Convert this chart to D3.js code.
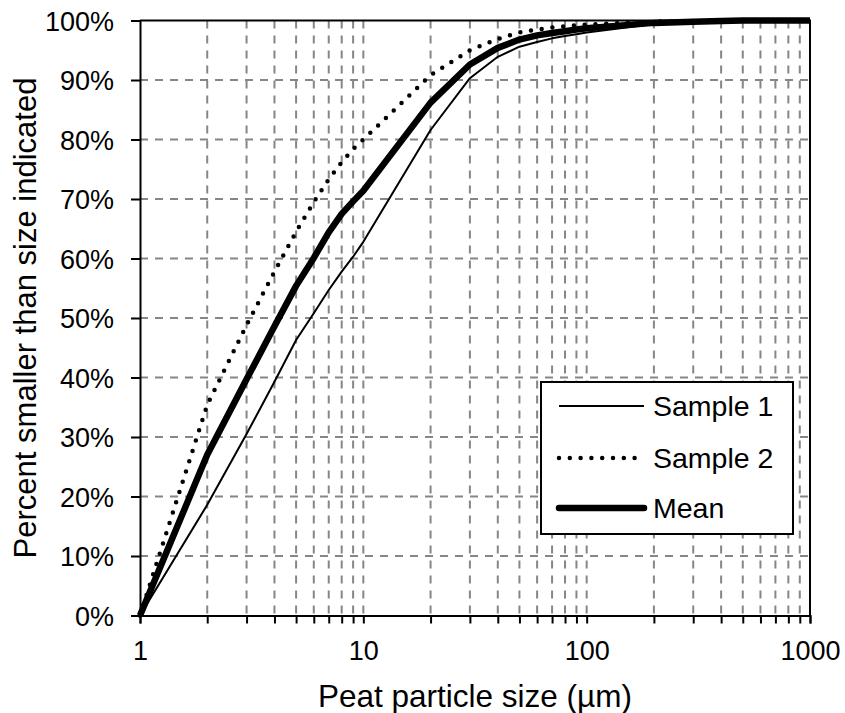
<!DOCTYPE html>
<html>
<head>
<meta charset="utf-8">
<script src="https://cdn.jsdelivr.net/npm/d3@7"></script>
<style>
  body { margin: 0; background: #fff; }
  svg { display: block; font-family: "Liberation Sans", Arial, sans-serif; }
</style>
</head>
<body>
<div id="chart"></div>
<script>
  // particle sizes (µm) the curves were sampled at
  var sizes = [1, 2, 3, 4, 5, 6, 7, 8, 9, 10, 20, 30, 40, 50, 60, 70, 80, 90,
               100, 200, 300, 400, 500, 600, 700, 800, 900, 1000];

  // cumulative percent passing
  var sample1 = [0, 18.6, 30.5, 39.3, 46.3, 50.8, 54.7, 57.8, 60.3, 62.8, 81.6, 90.3, 93.9, 95.6, 96.4, 97.0, 97.4, 97.7,
                 98.0, 99.4, 99.7, 99.8, 99.9, 99.9, 100, 100, 100, 100];
  var sample2 = [0, 35.4, 48.8, 57.8, 64.5, 69.5, 73.3, 76.2, 78.4, 80.0, 90.8, 95.0, 96.9, 98.0, 98.5, 98.8, 99.0, 99.2,
                 99.3, 99.8, 99.9, 100, 100, 100, 100, 100, 100, 100];
  var mean    = [0, 27.0, 39.7, 48.6, 55.4, 60.1, 64.4, 67.5, 69.6, 71.4, 86.2, 92.6, 95.4, 96.8, 97.5, 97.9, 98.2, 98.5,
                 98.7, 99.6, 99.8, 99.9, 100, 100, 100, 100, 100, 100];

  var xTicks = [1, 10, 100, 1000];
  var yTicks = [0, 10, 20, 30, 40, 50, 60, 70, 80, 90, 100];
  var legendNames = ["Sample 1", "Sample 2", "Mean"];

  var width = 845, height = 713;
  var plotLeft = 140, plotRight = 810, plotTop = 20.5, plotBottom = 615.5;

  var svg = d3.select("#chart").append("svg")
      .attr("width", width)
      .attr("height", height);

  var x = d3.scaleLog().domain([1, 1000]).range([plotLeft, plotRight]);
  var y = d3.scaleLinear().domain([0, 100]).range([plotBottom, plotTop]);

  // minor grid values: 2..9 in each decade
  var gridX = [];
  [1, 10, 100].forEach(function (d) {
    for (var i = 2; i <= 9; i++) gridX.push(d * i);
  });

  var grid = svg.append("g")
      .attr("stroke", "#868686")
      .attr("stroke-width", 2)
      .attr("stroke-dasharray", "8,7");

  grid.selectAll("line.gx")
      .data(gridX.concat([10, 100]))
      .enter().append("line")
      .attr("class", "gx")
      .attr("x1", function (d) { return x(d); })
      .attr("x2", function (d) { return x(d); })
      .attr("y1", plotTop)
      .attr("y2", plotBottom);

  grid.selectAll("line.gy")
      .data(yTicks.slice(1, -1))
      .enter().append("line")
      .attr("class", "gy")
      .attr("x1", plotLeft)
      .attr("x2", plotRight)
      .attr("y1", function (d) { return y(d); })
      .attr("y2", function (d) { return y(d); });

  // frame on top and right
  svg.append("path")
      .attr("d", "M" + plotLeft + "," + plotTop + "H" + plotRight + "V" + plotBottom)
      .attr("fill", "none")
      .attr("stroke", "#000")
      .attr("stroke-width", 2);

  // x axis
  var xAxis = d3.axisBottom(x)
      .tickValues(xTicks.concat(gridX))
      .tickSize(8)
      .tickPadding(17)
      .tickFormat(function (d) { return xTicks.indexOf(d) >= 0 ? d : ""; });

  var gx = svg.append("g")
      .attr("transform", "translate(0," + plotBottom + ")")
      .call(xAxis);

  // y axis
  var yAxis = d3.axisLeft(y)
      .tickValues(yTicks)
      .tickSize(9)
      .tickPadding(17)
      .tickFormat(function (d) { return d + "%"; });

  var gy = svg.append("g")
      .attr("transform", "translate(" + plotLeft + ",0)")
      .call(yAxis);

  [gx, gy].forEach(function (g) {
    g.select(".domain").attr("stroke", "#000").attr("stroke-width", 2);
    g.selectAll(".tick line").attr("stroke", "#000").attr("stroke-width", 2);
    g.selectAll(".tick text")
        .attr("fill", "#000")
        .style("font-size", "27px")
        .style("font-family", "'Liberation Sans', Arial, sans-serif");
  });
  gx.selectAll(".tick text").attr("dy", "0.71em");
  gy.selectAll(".tick text").attr("dy", "0.36em");

  // curves
  var line = d3.line()
      .x(function (d, i) { return x(sizes[i]); })
      .y(function (d) { return y(d); });

  var styles = [
    { data: sample1, width: 2, dash: null, cap: "butt" },
    { data: sample2, width: 4.5, dash: "0,10.8", cap: "round" },
    { data: mean, width: 6.5, dash: null, cap: "butt" }
  ];

  styles.forEach(function (s) {
    svg.append("path")
        .datum(s.data)
        .attr("d", line)
        .attr("fill", "none")
        .attr("stroke", "#000")
        .attr("stroke-width", s.width)
        .attr("stroke-linejoin", "round")
        .attr("stroke-linecap", s.cap)
        .attr("stroke-dasharray", s.dash);
  });

  // legend
  var legend = svg.append("g");
  legend.append("rect")
      .attr("x", 541)
      .attr("y", 382)
      .attr("width", 252)
      .attr("height", 152)
      .attr("fill", "#fff")
      .attr("stroke", "#000")
      .attr("stroke-width", 2);

  var rows = [406, 458, 508];
  styles.forEach(function (s, i) {
    legend.append("line")
        .attr("x1", 559)
        .attr("x2", s.cap === "round" ? 637 : 644)
        .attr("y1", rows[i])
        .attr("y2", rows[i])
        .attr("stroke", "#000")
        .attr("stroke-width", s.width)
        .attr("stroke-linecap", i === 2 ? "round" : s.cap)
        .attr("stroke-dasharray", s.dash);
    legend.append("text")
        .attr("x", 653)
        .attr("y", rows[i])
        .attr("dy", "0.36em")
        .style("font-size", "28.5px")
        .text(legendNames[i]);
  });

  // axis titles
  svg.append("text")
      .attr("x", (plotLeft + plotRight) / 2)
      .attr("y", 707)
      .attr("text-anchor", "middle")
      .style("font-size", "31.5px")
      .text("Peat particle size (µm)");

  svg.append("text")
      .attr("transform", "translate(36," + ((plotTop + plotBottom) / 2) + ") rotate(-90)")
      .attr("text-anchor", "middle")
      .style("font-size", "31px")
      .text("Percent smaller than size indicated");
</script>
</body>
</html>
